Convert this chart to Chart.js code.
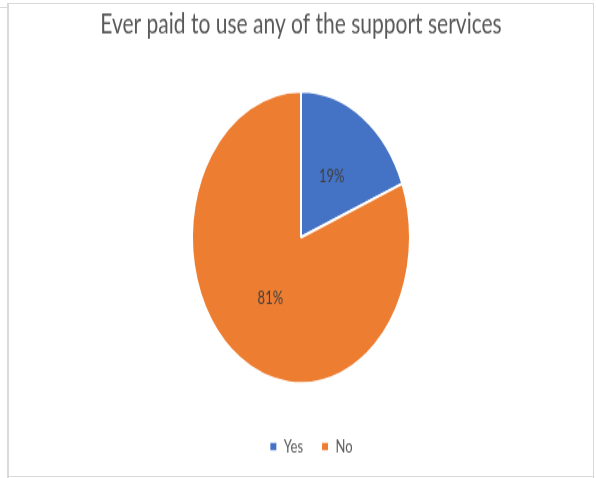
<!DOCTYPE html>
<html>
<head>
<meta charset="utf-8">
<script src="https://cdn.jsdelivr.net/npm/chart.js@4.4.1/dist/chart.umd.min.js"></script>
<style>
  html, body { margin: 0; padding: 0; background: #ffffff; overflow: hidden; }
  #page { position: relative; width: 596px; height: 478px; }
  /* the chart is laid out on a shorter canvas and stretched to full height */
  #stretch { position: absolute; left: 0; top: 0; width: 596px; height: 357px;
             transform: scaleY(1.3389); transform-origin: 0 0; }
  .rule { position: absolute; background: #d9d9d9; }
</style>
</head>
<body>
<div id="page">
  <div id="stretch"><canvas id="chart" width="596" height="357"></canvas></div>
  <div class="rule" style="left:0;top:7px;width:8px;height:1px"></div>
  <div class="rule" style="left:8px;top:3px;width:586px;height:1px"></div>
  <div class="rule" style="left:7px;top:3px;width:2px;height:475px"></div>
  <div class="rule" style="left:593px;top:3px;width:1px;height:475px"></div>
  <div class="rule" style="left:8px;top:476px;width:586px;height:1px"></div>
</div>
<script>
const chartTitle = 'Ever paid to use any of the support services';
const categories = ['Yes', 'No'];
const shares = [19, 81];
const sliceColors = ['#4472c4', '#ed7d31'];

// percentage labels placed halfway out along each slice
const sliceLabels = {
  id: 'sliceLabels',
  afterDatasetsDraw(chart) {
    const ctx = chart.ctx;
    const meta = chart.getDatasetMeta(0);
    ctx.save();
    ctx.font = '13px Lato';
    ctx.fillStyle = '#404040';
    ctx.textAlign = 'center';
    ctx.textBaseline = 'middle';
    meta.data.forEach((arc, i) => {
      const p = arc.tooltipPosition();
      ctx.fillText(shares[i] + '%', p.x, p.y);
    });
    ctx.restore();
  }
};

// nudge the legend a little to the right of the pie's axis
const legendShift = {
  id: 'legendShift',
  afterLayout(chart) {
    chart.legend.left += 10;
    chart.legend.right += 10;
  }
};

new Chart(document.getElementById('chart'), {
  type: 'pie',
  data: {
    labels: categories,
    datasets: [{
      data: shares,
      backgroundColor: sliceColors,
      borderColor: '#ffffff',
      borderWidth: 2,
      radius: 109
    }]
  },
  options: {
    responsive: false,
    animation: false,
    layout: { padding: { left: 6, right: 0, top: 0, bottom: 7 } },
    plugins: {
      title: {
        display: true,
        text: chartTitle,
        color: '#595959',
        font: { family: 'Lato', size: 21, weight: 'normal' },
        padding: { top: 5.4, bottom: 15 }
      },
      legend: {
        position: 'bottom',
        labels: {
          color: '#595959',
          font: { family: 'Lato', size: 13 },
          boxWidth: 8,
          boxHeight: 7.5,
          padding: 18
        }
      },
      tooltip: { enabled: false }
    }
  },
  plugins: [sliceLabels, legendShift]
});
</script>
</body>
</html>
